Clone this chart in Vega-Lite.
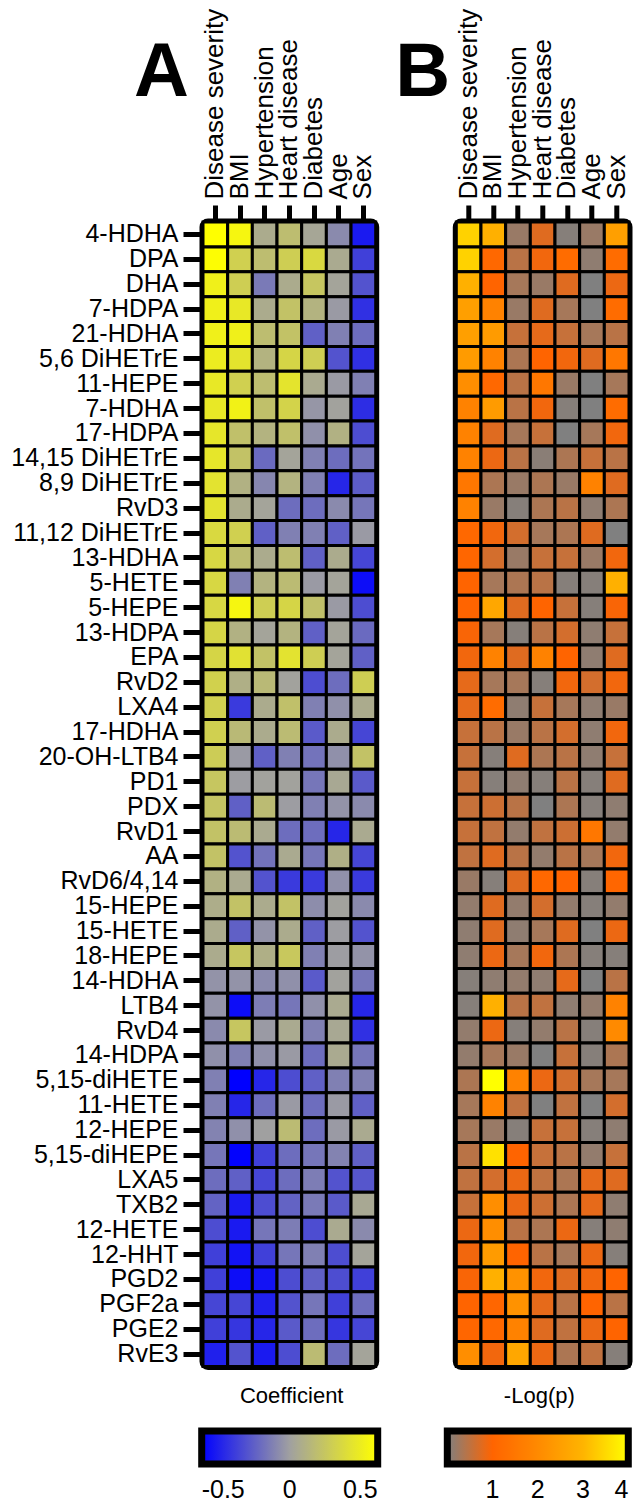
{
"$schema": "https://vega.github.io/schema/vega-lite/v6.json",
"padding": {"left": 7, "top": 4, "right": 0, "bottom": 0},
"datasets": {"cells": [
{"m":"4-HDHA","v":"Disease severity","c":0.5,"p":3.4},{"m":"4-HDHA","v":"BMI","c":0.45,"p":2.9},{"m":"4-HDHA","v":"Hypertension","c":0.06,"p":0.2},{"m":"4-HDHA","v":"Heart disease","c":0.15,"p":0.75},{"m":"4-HDHA","v":"Diabetes","c":0.03,"p":0.05},{"m":"4-HDHA","v":"Age","c":-0.07,"p":0.2},{"m":"4-HDHA","v":"Sex","c":-0.42,"p":2.5},
{"m":"DPA","v":"Disease severity","c":0.49,"p":3.4},{"m":"DPA","v":"BMI","c":0.25,"p":1.1},{"m":"DPA","v":"Hypertension","c":0.15,"p":0.45},{"m":"DPA","v":"Heart disease","c":0.24,"p":0.9},{"m":"DPA","v":"Diabetes","c":0.3,"p":1.2},{"m":"DPA","v":"Age","c":0.05,"p":0.12},{"m":"DPA","v":"Sex","c":-0.3,"p":1.2},
{"m":"DHA","v":"Disease severity","c":0.42,"p":2.9},{"m":"DHA","v":"BMI","c":0.24,"p":1.0},{"m":"DHA","v":"Hypertension","c":-0.12,"p":0.3},{"m":"DHA","v":"Heart disease","c":0.06,"p":0.2},{"m":"DHA","v":"Diabetes","c":0.2,"p":0.75},{"m":"DHA","v":"Age","c":0.02,"p":0},{"m":"DHA","v":"Sex","c":-0.24,"p":0.85},
{"m":"7-HDPA","v":"Disease severity","c":0.42,"p":2.5},{"m":"7-HDPA","v":"BMI","c":0.38,"p":1.8},{"m":"7-HDPA","v":"Hypertension","c":0.06,"p":0.2},{"m":"7-HDPA","v":"Heart disease","c":0.18,"p":0.75},{"m":"7-HDPA","v":"Diabetes","c":0.1,"p":0.3},{"m":"7-HDPA","v":"Age","c":-0.02,"p":0},{"m":"7-HDPA","v":"Sex","c":-0.35,"p":1.2},
{"m":"21-HDHA","v":"Disease severity","c":0.42,"p":2.5},{"m":"21-HDHA","v":"BMI","c":0.42,"p":2.4},{"m":"21-HDHA","v":"Hypertension","c":0.15,"p":0.55},{"m":"21-HDHA","v":"Heart disease","c":0.18,"p":0.8},{"m":"21-HDHA","v":"Diabetes","c":-0.2,"p":0.55},{"m":"21-HDHA","v":"Age","c":-0.1,"p":0.3},{"m":"21-HDHA","v":"Sex","c":-0.16,"p":0.45},
{"m":"5,6 DiHETrE","v":"Disease severity","c":0.4,"p":2.4},{"m":"5,6 DiHETrE","v":"BMI","c":0.36,"p":1.8},{"m":"5,6 DiHETrE","v":"Hypertension","c":0.1,"p":0.35},{"m":"5,6 DiHETrE","v":"Heart disease","c":0.28,"p":1.0},{"m":"5,6 DiHETrE","v":"Diabetes","c":0.24,"p":0.9},{"m":"5,6 DiHETrE","v":"Age","c":-0.24,"p":0.75},{"m":"5,6 DiHETrE","v":"Sex","c":-0.35,"p":1.5},
{"m":"11-HEPE","v":"Disease severity","c":0.38,"p":2.1},{"m":"11-HEPE","v":"BMI","c":0.25,"p":1.1},{"m":"11-HEPE","v":"Hypertension","c":0.15,"p":0.45},{"m":"11-HEPE","v":"Heart disease","c":0.36,"p":1.5},{"m":"11-HEPE","v":"Diabetes","c":0.05,"p":0.2},{"m":"11-HEPE","v":"Age","c":-0.02,"p":0},{"m":"11-HEPE","v":"Sex","c":-0.1,"p":0.3},
{"m":"7-HDHA","v":"Disease severity","c":0.38,"p":1.8},{"m":"7-HDHA","v":"BMI","c":0.43,"p":2.4},{"m":"7-HDHA","v":"Hypertension","c":0.17,"p":0.45},{"m":"7-HDHA","v":"Heart disease","c":0.27,"p":0.9},{"m":"7-HDHA","v":"Diabetes","c":-0.03,"p":0.05},{"m":"7-HDHA","v":"Age","c":0.01,"p":0},{"m":"7-HDHA","v":"Sex","c":-0.36,"p":1.2},
{"m":"17-HDPA","v":"Disease severity","c":0.37,"p":1.8},{"m":"17-HDPA","v":"BMI","c":0.17,"p":0.75},{"m":"17-HDPA","v":"Hypertension","c":0.1,"p":0.3},{"m":"17-HDPA","v":"Heart disease","c":0.17,"p":0.55},{"m":"17-HDPA","v":"Diabetes","c":-0.05,"p":0},{"m":"17-HDPA","v":"Age","c":0.09,"p":0.3},{"m":"17-HDPA","v":"Sex","c":-0.26,"p":0.9},
{"m":"14,15 DiHETrE","v":"Disease severity","c":0.37,"p":1.8},{"m":"14,15 DiHETrE","v":"BMI","c":0.18,"p":0.85},{"m":"14,15 DiHETrE","v":"Hypertension","c":-0.17,"p":0.45},{"m":"14,15 DiHETrE","v":"Heart disease","c":0.02,"p":0.08},{"m":"14,15 DiHETrE","v":"Diabetes","c":-0.1,"p":0.35},{"m":"14,15 DiHETrE","v":"Age","c":-0.16,"p":0.55},{"m":"14,15 DiHETrE","v":"Sex","c":-0.14,"p":0.45},
{"m":"8,9 DiHETrE","v":"Disease severity","c":0.35,"p":1.5},{"m":"8,9 DiHETrE","v":"BMI","c":0.09,"p":0.35},{"m":"8,9 DiHETrE","v":"Hypertension","c":-0.08,"p":0.2},{"m":"8,9 DiHETrE","v":"Heart disease","c":0.1,"p":0.35},{"m":"8,9 DiHETrE","v":"Diabetes","c":-0.1,"p":0.2},{"m":"8,9 DiHETrE","v":"Age","c":-0.38,"p":1.8},{"m":"8,9 DiHETrE","v":"Sex","c":-0.21,"p":0.75},
{"m":"RvD3","v":"Disease severity","c":0.35,"p":1.8},{"m":"RvD3","v":"BMI","c":0.06,"p":0.2},{"m":"RvD3","v":"Hypertension","c":0.02,"p":0.05},{"m":"RvD3","v":"Heart disease","c":-0.16,"p":0.35},{"m":"RvD3","v":"Diabetes","c":-0.16,"p":0.45},{"m":"RvD3","v":"Age","c":-0.07,"p":0.12},{"m":"RvD3","v":"Sex","c":-0.13,"p":0.35},
{"m":"11,12 DiHETrE","v":"Disease severity","c":0.3,"p":1.1},{"m":"11,12 DiHETrE","v":"BMI","c":0.25,"p":0.9},{"m":"11,12 DiHETrE","v":"Hypertension","c":-0.2,"p":0.65},{"m":"11,12 DiHETrE","v":"Heart disease","c":-0.1,"p":0.3},{"m":"11,12 DiHETrE","v":"Diabetes","c":-0.1,"p":0.35},{"m":"11,12 DiHETrE","v":"Age","c":-0.2,"p":0.75},{"m":"11,12 DiHETrE","v":"Sex","c":-0.02,"p":0},
{"m":"13-HDHA","v":"Disease severity","c":0.29,"p":1.05},{"m":"13-HDHA","v":"BMI","c":0.15,"p":0.65},{"m":"13-HDHA","v":"Hypertension","c":0.06,"p":0.2},{"m":"13-HDHA","v":"Heart disease","c":0.15,"p":0.55},{"m":"13-HDHA","v":"Diabetes","c":-0.2,"p":0.55},{"m":"13-HDHA","v":"Age","c":0.06,"p":0.2},{"m":"13-HDHA","v":"Sex","c":-0.28,"p":0.9},
{"m":"5-HETE","v":"Disease severity","c":0.29,"p":1.0},{"m":"5-HETE","v":"BMI","c":-0.1,"p":0.3},{"m":"5-HETE","v":"Hypertension","c":0.1,"p":0.35},{"m":"5-HETE","v":"Heart disease","c":0.14,"p":0.45},{"m":"5-HETE","v":"Diabetes","c":-0.02,"p":0.05},{"m":"5-HETE","v":"Age","c":0.02,"p":0.05},{"m":"5-HETE","v":"Sex","c":-0.46,"p":2.9},
{"m":"5-HEPE","v":"Disease severity","c":0.29,"p":1.0},{"m":"5-HEPE","v":"BMI","c":0.45,"p":2.7},{"m":"5-HEPE","v":"Hypertension","c":0.24,"p":0.75},{"m":"5-HEPE","v":"Heart disease","c":0.28,"p":1.0},{"m":"5-HEPE","v":"Diabetes","c":0.17,"p":0.55},{"m":"5-HEPE","v":"Age","c":-0.02,"p":0.05},{"m":"5-HEPE","v":"Sex","c":-0.26,"p":0.95},
{"m":"13-HDPA","v":"Disease severity","c":0.28,"p":0.95},{"m":"13-HDPA","v":"BMI","c":0.09,"p":0.3},{"m":"13-HDPA","v":"Hypertension","c":0.02,"p":0.05},{"m":"13-HDPA","v":"Heart disease","c":0.1,"p":0.45},{"m":"13-HDPA","v":"Diabetes","c":-0.2,"p":0.65},{"m":"13-HDPA","v":"Age","c":0.02,"p":0.12},{"m":"13-HDPA","v":"Sex","c":-0.17,"p":0.55},
{"m":"EPA","v":"Disease severity","c":0.28,"p":0.9},{"m":"EPA","v":"BMI","c":0.34,"p":1.8},{"m":"EPA","v":"Hypertension","c":0.18,"p":0.75},{"m":"EPA","v":"Heart disease","c":0.35,"p":1.8},{"m":"EPA","v":"Diabetes","c":0.24,"p":1.0},{"m":"EPA","v":"Age","c":0.02,"p":0.12},{"m":"EPA","v":"Sex","c":-0.2,"p":0.75},
{"m":"RvD2","v":"Disease severity","c":0.26,"p":0.8},{"m":"RvD2","v":"BMI","c":0.08,"p":0.3},{"m":"RvD2","v":"Hypertension","c":0.13,"p":0.3},{"m":"RvD2","v":"Heart disease","c":0.01,"p":0.05},{"m":"RvD2","v":"Diabetes","c":-0.26,"p":0.9},{"m":"RvD2","v":"Age","c":-0.16,"p":0.65},{"m":"RvD2","v":"Sex","c":0.24,"p":0.9},
{"m":"LXA4","v":"Disease severity","c":0.25,"p":0.8},{"m":"LXA4","v":"BMI","c":-0.32,"p":1.2},{"m":"LXA4","v":"Hypertension","c":0.06,"p":0.12},{"m":"LXA4","v":"Heart disease","c":0.17,"p":0.55},{"m":"LXA4","v":"Diabetes","c":-0.1,"p":0.3},{"m":"LXA4","v":"Age","c":-0.05,"p":0.12},{"m":"LXA4","v":"Sex","c":0.06,"p":0.2},
{"m":"17-HDHA","v":"Disease severity","c":0.25,"p":0.55},{"m":"17-HDHA","v":"BMI","c":0.13,"p":0.45},{"m":"17-HDHA","v":"Hypertension","c":0.06,"p":0.2},{"m":"17-HDHA","v":"Heart disease","c":0.14,"p":0.45},{"m":"17-HDHA","v":"Diabetes","c":-0.22,"p":0.65},{"m":"17-HDHA","v":"Age","c":0.06,"p":0.12},{"m":"17-HDHA","v":"Sex","c":-0.28,"p":0.9},
{"m":"20-OH-LTB4","v":"Disease severity","c":0.23,"p":0.55},{"m":"20-OH-LTB4","v":"BMI","c":-0.02,"p":0.05},{"m":"20-OH-LTB4","v":"Hypertension","c":-0.2,"p":0.75},{"m":"20-OH-LTB4","v":"Heart disease","c":-0.1,"p":0.35},{"m":"20-OH-LTB4","v":"Diabetes","c":-0.14,"p":0.45},{"m":"20-OH-LTB4","v":"Age","c":-0.05,"p":0.12},{"m":"20-OH-LTB4","v":"Sex","c":0.18,"p":0.55},
{"m":"PD1","v":"Disease severity","c":0.2,"p":0.55},{"m":"PD1","v":"BMI","c":-0.01,"p":0.05},{"m":"PD1","v":"Hypertension","c":0.01,"p":0.12},{"m":"PD1","v":"Heart disease","c":0.01,"p":0.05},{"m":"PD1","v":"Diabetes","c":-0.13,"p":0.45},{"m":"PD1","v":"Age","c":0.04,"p":0.05},{"m":"PD1","v":"Sex","c":-0.22,"p":0.75},
{"m":"PDX","v":"Disease severity","c":0.19,"p":0.55},{"m":"PDX","v":"BMI","c":-0.2,"p":0.6},{"m":"PDX","v":"Hypertension","c":0.14,"p":0.45},{"m":"PDX","v":"Heart disease","c":-0.01,"p":0},{"m":"PDX","v":"Diabetes","c":-0.1,"p":0.35},{"m":"PDX","v":"Age","c":-0.04,"p":0.05},{"m":"PDX","v":"Sex","c":-0.07,"p":0.12},
{"m":"RvD1","v":"Disease severity","c":0.18,"p":0.55},{"m":"RvD1","v":"BMI","c":0.14,"p":0.5},{"m":"RvD1","v":"Hypertension","c":0.05,"p":0.15},{"m":"RvD1","v":"Heart disease","c":-0.16,"p":0.5},{"m":"RvD1","v":"Diabetes","c":-0.16,"p":0.6},{"m":"RvD1","v":"Age","c":-0.38,"p":1.5},{"m":"RvD1","v":"Sex","c":0.05,"p":0.15},
{"m":"AA","v":"Disease severity","c":0.18,"p":0.5},{"m":"AA","v":"BMI","c":-0.24,"p":0.75},{"m":"AA","v":"Hypertension","c":-0.14,"p":0.45},{"m":"AA","v":"Heart disease","c":0.05,"p":0.15},{"m":"AA","v":"Diabetes","c":-0.13,"p":0.45},{"m":"AA","v":"Age","c":0.08,"p":0.3},{"m":"AA","v":"Sex","c":-0.28,"p":0.9},
{"m":"RvD6/4,14","v":"Disease severity","c":0.09,"p":0.2},{"m":"RvD6/4,14","v":"BMI","c":0.05,"p":0.05},{"m":"RvD6/4,14","v":"Hypertension","c":-0.24,"p":0.75},{"m":"RvD6/4,14","v":"Heart disease","c":-0.32,"p":1.1},{"m":"RvD6/4,14","v":"Diabetes","c":-0.32,"p":1.0},{"m":"RvD6/4,14","v":"Age","c":-0.05,"p":0.05},{"m":"RvD6/4,14","v":"Sex","c":-0.32,"p":1.05},
{"m":"15-HEPE","v":"Disease severity","c":0.07,"p":0.15},{"m":"15-HEPE","v":"BMI","c":0.18,"p":0.75},{"m":"15-HEPE","v":"Hypertension","c":0.06,"p":0.15},{"m":"15-HEPE","v":"Heart disease","c":0.18,"p":0.65},{"m":"15-HEPE","v":"Diabetes","c":-0.06,"p":0.15},{"m":"15-HEPE","v":"Age","c":0.01,"p":0.05},{"m":"15-HEPE","v":"Sex","c":-0.07,"p":0.15},
{"m":"15-HETE","v":"Disease severity","c":0.06,"p":0.12},{"m":"15-HETE","v":"BMI","c":-0.2,"p":0.75},{"m":"15-HETE","v":"Hypertension","c":-0.04,"p":0.12},{"m":"15-HETE","v":"Heart disease","c":0.06,"p":0.3},{"m":"15-HETE","v":"Diabetes","c":-0.2,"p":0.75},{"m":"15-HETE","v":"Age","c":-0.01,"p":0},{"m":"15-HETE","v":"Sex","c":-0.24,"p":0.85},
{"m":"18-HEPE","v":"Disease severity","c":0.06,"p":0.12},{"m":"18-HEPE","v":"BMI","c":0.2,"p":0.85},{"m":"18-HEPE","v":"Hypertension","c":0.08,"p":0.3},{"m":"18-HEPE","v":"Heart disease","c":0.21,"p":0.9},{"m":"18-HEPE","v":"Diabetes","c":-0.1,"p":0.35},{"m":"18-HEPE","v":"Age","c":-0.01,"p":0.05},{"m":"18-HEPE","v":"Sex","c":-0.04,"p":0.05},
{"m":"14-HDHA","v":"Disease severity","c":-0.04,"p":0.05},{"m":"14-HDHA","v":"BMI","c":-0.04,"p":0.12},{"m":"14-HDHA","v":"Hypertension","c":-0.07,"p":0.15},{"m":"14-HDHA","v":"Heart disease","c":-0.05,"p":0.12},{"m":"14-HDHA","v":"Diabetes","c":-0.22,"p":0.8},{"m":"14-HDHA","v":"Age","c":0.01,"p":0},{"m":"14-HDHA","v":"Sex","c":-0.13,"p":0.45},
{"m":"LTB4","v":"Disease severity","c":-0.04,"p":0.05},{"m":"LTB4","v":"BMI","c":-0.46,"p":2.9},{"m":"LTB4","v":"Hypertension","c":-0.11,"p":0.45},{"m":"LTB4","v":"Heart disease","c":-0.13,"p":0.5},{"m":"LTB4","v":"Diabetes","c":-0.05,"p":0.12},{"m":"LTB4","v":"Age","c":0.05,"p":0.15},{"m":"LTB4","v":"Sex","c":-0.38,"p":1.8},
{"m":"RvD4","v":"Disease severity","c":-0.07,"p":0.15},{"m":"RvD4","v":"BMI","c":0.2,"p":0.85},{"m":"RvD4","v":"Hypertension","c":-0.02,"p":0.05},{"m":"RvD4","v":"Heart disease","c":0.05,"p":0.15},{"m":"RvD4","v":"Diabetes","c":-0.1,"p":0.45},{"m":"RvD4","v":"Age","c":0.04,"p":0.05},{"m":"RvD4","v":"Sex","c":-0.35,"p":2.0},
{"m":"14-HDPA","v":"Disease severity","c":-0.05,"p":0.15},{"m":"14-HDPA","v":"BMI","c":-0.1,"p":0.3},{"m":"14-HDPA","v":"Hypertension","c":-0.05,"p":0.2},{"m":"14-HDPA","v":"Heart disease","c":-0.02,"p":0},{"m":"14-HDPA","v":"Diabetes","c":-0.16,"p":0.55},{"m":"14-HDPA","v":"Age","c":0.05,"p":0.05},{"m":"14-HDPA","v":"Sex","c":-0.13,"p":0.35},
{"m":"5,15-diHETE","v":"Disease severity","c":-0.1,"p":0.35},{"m":"5,15-diHETE","v":"BMI","c":-0.5,"p":4.0},{"m":"5,15-diHETE","v":"Hypertension","c":-0.38,"p":1.8},{"m":"5,15-diHETE","v":"Heart disease","c":-0.26,"p":0.85},{"m":"5,15-diHETE","v":"Diabetes","c":-0.2,"p":0.65},{"m":"5,15-diHETE","v":"Age","c":-0.1,"p":0.3},{"m":"5,15-diHETE","v":"Sex","c":-0.1,"p":0.3},
{"m":"11-HETE","v":"Disease severity","c":-0.1,"p":0.3},{"m":"11-HETE","v":"BMI","c":-0.38,"p":1.8},{"m":"11-HETE","v":"Hypertension","c":-0.16,"p":0.5},{"m":"11-HETE","v":"Heart disease","c":-0.02,"p":0},{"m":"11-HETE","v":"Diabetes","c":-0.16,"p":0.5},{"m":"11-HETE","v":"Age","c":-0.02,"p":0},{"m":"11-HETE","v":"Sex","c":-0.2,"p":0.65},
{"m":"12-HEPE","v":"Disease severity","c":-0.09,"p":0.3},{"m":"12-HEPE","v":"BMI","c":-0.05,"p":0.2},{"m":"12-HEPE","v":"Hypertension","c":0.0,"p":0.05},{"m":"12-HEPE","v":"Heart disease","c":0.14,"p":0.55},{"m":"12-HEPE","v":"Diabetes","c":-0.16,"p":0.55},{"m":"12-HEPE","v":"Age","c":-0.02,"p":0.05},{"m":"12-HEPE","v":"Sex","c":0.05,"p":0.12},
{"m":"5,15-diHEPE","v":"Disease severity","c":-0.13,"p":0.45},{"m":"5,15-diHEPE","v":"BMI","c":-0.49,"p":3.6},{"m":"5,15-diHEPE","v":"Hypertension","c":-0.3,"p":1.0},{"m":"5,15-diHEPE","v":"Heart disease","c":-0.16,"p":0.55},{"m":"5,15-diHEPE","v":"Diabetes","c":-0.13,"p":0.45},{"m":"5,15-diHEPE","v":"Age","c":-0.09,"p":0.15},{"m":"5,15-diHEPE","v":"Sex","c":-0.2,"p":0.55},
{"m":"LXA5","v":"Disease severity","c":-0.16,"p":0.5},{"m":"LXA5","v":"BMI","c":-0.2,"p":0.65},{"m":"LXA5","v":"Hypertension","c":-0.28,"p":0.85},{"m":"LXA5","v":"Heart disease","c":-0.16,"p":0.5},{"m":"LXA5","v":"Diabetes","c":-0.11,"p":0.35},{"m":"LXA5","v":"Age","c":-0.24,"p":0.8},{"m":"LXA5","v":"Sex","c":-0.23,"p":0.75},
{"m":"TXB2","v":"Disease severity","c":-0.19,"p":0.55},{"m":"TXB2","v":"BMI","c":-0.42,"p":2.1},{"m":"TXB2","v":"Hypertension","c":-0.26,"p":0.85},{"m":"TXB2","v":"Heart disease","c":-0.19,"p":0.6},{"m":"TXB2","v":"Diabetes","c":-0.12,"p":0.35},{"m":"TXB2","v":"Age","c":-0.22,"p":0.8},{"m":"TXB2","v":"Sex","c":0.04,"p":0.12},
{"m":"12-HETE","v":"Disease severity","c":-0.26,"p":0.85},{"m":"12-HETE","v":"BMI","c":-0.42,"p":2.1},{"m":"12-HETE","v":"Hypertension","c":-0.13,"p":0.45},{"m":"12-HETE","v":"Heart disease","c":-0.11,"p":0.35},{"m":"12-HETE","v":"Diabetes","c":-0.26,"p":0.85},{"m":"12-HETE","v":"Age","c":0.05,"p":0.05},{"m":"12-HETE","v":"Sex","c":-0.07,"p":0.12},
{"m":"12-HHT","v":"Disease severity","c":-0.3,"p":0.9},{"m":"12-HHT","v":"BMI","c":-0.44,"p":2.4},{"m":"12-HHT","v":"Hypertension","c":-0.3,"p":1.0},{"m":"12-HHT","v":"Heart disease","c":-0.13,"p":0.45},{"m":"12-HHT","v":"Diabetes","c":-0.1,"p":0.3},{"m":"12-HHT","v":"Age","c":-0.26,"p":0.85},{"m":"12-HHT","v":"Sex","c":0.02,"p":0.05},
{"m":"PGD2","v":"Disease severity","c":-0.3,"p":0.95},{"m":"PGD2","v":"BMI","c":-0.46,"p":2.9},{"m":"PGD2","v":"Hypertension","c":-0.44,"p":2.2},{"m":"PGD2","v":"Heart disease","c":-0.26,"p":0.9},{"m":"PGD2","v":"Diabetes","c":-0.2,"p":0.75},{"m":"PGD2","v":"Age","c":-0.26,"p":0.9},{"m":"PGD2","v":"Sex","c":-0.3,"p":1.0},
{"m":"PGF2a","v":"Disease severity","c":-0.28,"p":1.0},{"m":"PGF2a","v":"BMI","c":-0.28,"p":1.05},{"m":"PGF2a","v":"Hypertension","c":-0.4,"p":2.2},{"m":"PGF2a","v":"Heart disease","c":-0.24,"p":0.8},{"m":"PGF2a","v":"Diabetes","c":-0.13,"p":0.45},{"m":"PGF2a","v":"Age","c":-0.3,"p":1.0},{"m":"PGF2a","v":"Sex","c":-0.16,"p":0.45},
{"m":"PGE2","v":"Disease severity","c":-0.3,"p":1.05},{"m":"PGE2","v":"BMI","c":-0.33,"p":1.1},{"m":"PGE2","v":"Hypertension","c":-0.38,"p":1.8},{"m":"PGE2","v":"Heart disease","c":-0.22,"p":0.75},{"m":"PGE2","v":"Diabetes","c":-0.16,"p":0.5},{"m":"PGE2","v":"Age","c":-0.33,"p":0.85},{"m":"PGE2","v":"Sex","c":-0.28,"p":1.0},
{"m":"RvE3","v":"Disease severity","c":-0.4,"p":2.1},{"m":"RvE3","v":"BMI","c":-0.24,"p":0.9},{"m":"RvE3","v":"Hypertension","c":-0.42,"p":2.7},{"m":"RvE3","v":"Heart disease","c":-0.26,"p":0.85},{"m":"RvE3","v":"Diabetes","c":0.14,"p":0.35},{"m":"RvE3","v":"Age","c":-0.16,"p":0.5},{"m":"RvE3","v":"Sex","c":0.02,"p":0.05}
]},
"spacing": 80.3,
"bounds": "flush",
"resolve": {"scale": {"color": "independent", "x": "independent", "y": "independent"}},
"hconcat": [
{
"data": {"name": "cells"},
"width": 172.7,
"height": 1144.5,
"title": {"text": "A", "fontSize": 76, "fontWeight": "bold", "anchor": "start", "frame": "group", "baseline": "alphabetic", "offset": 0, "dx": -69, "dy": 164},
"mark": {"type": "rect", "stroke": "black", "strokeWidth": 3},
"encoding": {
"x": {"field": "v", "type": "nominal", "sort": ["Disease severity","BMI","Hypertension","Heart disease","Diabetes","Age","Sex"], "scale": {"paddingInner": 0, "paddingOuter": 0},
"axis": {"orient": "top", "title": null, "labelAngle": -90, "labelFontSize": 26, "labelLimit": 400, "labelColor": "black", "tickSize": 17, "tickWidth": 5, "tickColor": "black", "domain": false, "labelPadding": 6}},
"y": {"field": "m", "type": "nominal", "sort": null, "scale": {"paddingInner": 0, "paddingOuter": 0},
"axis": {"title": null, "labelFontSize": 25, "labelLimit": 400, "labelColor": "black", "tickSize": 20, "tickWidth": 5, "tickColor": "black", "domain": false, "labelPadding": 5}},
"color": {"field": "c", "type": "quantitative",
"scale": {"domain": [-0.5, 0, 0.5], "range": ["#0000ff", "#a0a0a0", "#ffff00"], "interpolate": "rgb", "clamp": true},
"legend": {"title": "Coefficient", "orient": "none", "legendX": -1.3, "legendY": 1164, "direction": "horizontal", "gradientLength": 176, "gradientThickness": 33, "gradientStrokeColor": "black", "gradientStrokeWidth": 7, "values": [-0.5, 0, 0.5], "labelExpr": "'' + datum.value", "labelAlign": "center", "labelFontSize": 25, "labelColor": "black", "labelOffset": 14, "labelOverlap": false, "titleFontSize": 22, "titleFontWeight": "normal", "titleColor": "black", "titleAnchor": "middle", "titlePadding": 23, "padding": 0}}
}
},
{
"data": {"name": "cells"},
"width": 172.7,
"height": 1144.5,
"title": {"text": "B", "fontSize": 76, "fontWeight": "bold", "anchor": "start", "frame": "group", "baseline": "alphabetic", "offset": 0, "dx": -61, "dy": 164},
"mark": {"type": "rect", "stroke": "black", "strokeWidth": 3},
"encoding": {
"x": {"field": "v", "type": "nominal", "sort": ["Disease severity","BMI","Hypertension","Heart disease","Diabetes","Age","Sex"], "scale": {"paddingInner": 0, "paddingOuter": 0},
"axis": {"orient": "top", "title": null, "labelAngle": -90, "labelFontSize": 26, "labelLimit": 400, "labelColor": "black", "tickSize": 17, "tickWidth": 5, "tickColor": "black", "domain": false, "labelPadding": 6}},
"y": {"field": "m", "type": "nominal", "sort": null, "scale": {"paddingInner": 0, "paddingOuter": 0}, "axis": null},
"color": {"field": "p", "type": "quantitative",
"scale": {"domain": [0, 1, 2, 3, 4], "range": ["#808080", "#ff6400", "#ff8a00", "#ffb400", "#ffff00"], "interpolate": "rgb", "clamp": true},
"legend": {"title": "-Log(p)", "orient": "none", "legendX": -9, "legendY": 1164, "direction": "horizontal", "gradientLength": 181, "gradientThickness": 33, "gradientStrokeColor": "black", "gradientStrokeWidth": 7, "values": [1, 2, 3, 4], "labelExpr": "'' + datum.value", "labelAlign": "center", "labelFontSize": 25, "labelColor": "black", "labelOffset": 14, "labelOverlap": false, "titleFontSize": 22, "titleFontWeight": "normal", "titleColor": "black", "titleAnchor": "middle", "titlePadding": 23, "padding": 0}}
}
}
],
"config": {
"font": "Liberation Sans",
"view": {"stroke": "black", "strokeWidth": 7, "cornerRadius": 5},
"title": {"color": "black"},
"background": "white"
}
}
